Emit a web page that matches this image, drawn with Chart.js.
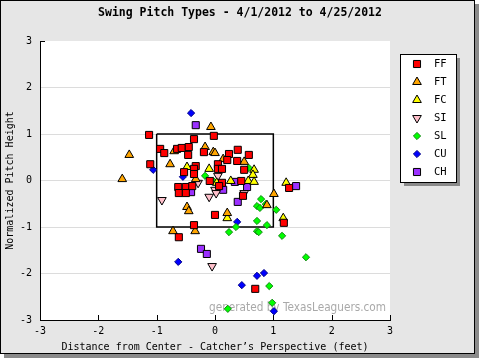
<!DOCTYPE html>
<html>
<head>
<meta charset="utf-8">
<script src="https://cdn.jsdelivr.net/npm/chart.js@4.4.0/dist/chart.umd.min.js"></script>
<style>
  html, body { margin: 0; padding: 0; background: #fff; }
  #wrap { width: 480px; height: 360px; }
</style>
</head>
<body>
<div id="wrap"><canvas id="pitchChart" width="480" height="360"></canvas></div>
<script>
// pitch locations (feet from center / normalized height)
const ffX = [-3.15, -1.13, -1.11, -0.94, -0.87, -0.65, -0.57, -0.45, -0.36, -0.02, -0.19, -0.46, -0.33, -0.36, 0.05, 0.05, 0.12, -0.36, -0.53, -0.09, 0.12, -0.63, -0.50, -0.39, 0.07, -0.62, -0.50, 0.00, -0.36, 0.24, 0.39, 0.58, 0.21, 0.38, 0.50, 0.45, 0.48, 1.27, 1.18, -0.62, 0.69];
const ffY = [1.09, 0.98, 0.35, 0.68, 0.59, 0.68, 0.70, 0.72, 0.89, 0.96, 0.61, 0.55, 0.31, 0.25, 0.35, 0.25, 0.25, 0.14, 0.18, -0.01, -0.05, -0.14, -0.14, -0.12, -0.12, -0.27, -0.27, -0.74, -0.96, 0.57, 0.66, 0.55, 0.44, 0.42, 0.23, -0.01, -0.33, -0.16, -0.91, -1.22, -2.33];

const ftX = [-1.47, -1.59, -0.07, -0.17, -0.03, 0.00, -0.70, -0.77, 0.14, 0.50, -0.33, -0.48, -0.45, 0.21, 1.01, 0.89, -0.72, -0.34];
const ftY = [0.55, 0.03, 1.15, 0.72, 0.61, 0.59, 0.63, 0.35, 0.46, 0.40, 0.03, -0.57, -0.66, -0.70, -0.29, -0.53, -1.09, -1.09];

const fcX = [-0.48, -0.10, 0.67, 0.65, 0.03, 0.27, 0.57, 0.67, 1.22, 0.21, 1.17];
const fcY = [0.29, 0.25, 0.23, 0.12, -0.05, -0.01, -0.01, -0.03, -0.05, -0.81, -0.81];

const siX = [0.05, -0.29, 0.00, 0.02, -0.10, -0.91, 0.50, -0.05];
const siY = [0.10, -0.05, -0.20, -0.27, -0.35, -0.42, -0.27, -1.84];

const slX = [-0.17, -0.03, 0.58, 0.79, 0.87, 0.72, 0.77, 1.05, 0.72, 0.89, 0.36, 0.24, 0.72, 0.75, 1.15, 1.56, 0.93, 0.98, 0.22];
const slY = [0.10, -0.01, 0.27, -0.40, -0.51, -0.55, -0.59, -0.63, -0.87, -0.96, -1.00, -1.11, -1.09, -1.11, -1.19, -1.65, -2.27, -2.63, -2.76];

const cuX = [-0.41, -1.06, -0.55, 0.38, -0.63, 0.84, 0.72, 0.46, 1.01];
const cuY = [1.45, 0.23, 0.08, -0.89, -1.75, -1.99, -2.05, -2.25, -2.81];

const chX = [-0.33, -0.41, 0.14, 0.34, 0.55, 0.39, 1.39, -0.24, -0.14];
const chY = [1.19, -0.25, -0.20, -0.03, -0.14, -0.46, -0.12, -1.47, -1.58];

// strike zone corners
const zoneX = [-1, 1, 1, -1, -1];
const zoneY = [1, 1, -1, -1, 1];

const axisTicks = [-3, -2, -1, 0, 1, 2, 3];
const pitchNames = ["FF", "FT", "FC", "SI", "SL", "CU", "CH"];

const monoFont = "'DejaVu Sans Mono', monospace";

function pts(xs, ys) {
    return xs.map((x, i) => ({ x: x, y: ys[i] }));
}

const pitchSets = [
    { label: "FF", data: pts(ffX, ffY), pointStyle: "rect", radius: 5, rotation: 0, fill: "#ff0000", edge: "#000000" },
    { label: "FT", data: pts(ftX, ftY), pointStyle: "triangle", radius: 5, rotation: 0, fill: "#ffa500", edge: "#000000" },
    { label: "FC", data: pts(fcX, fcY), pointStyle: "triangle", radius: 5, rotation: 0, fill: "#ffff00", edge: "#000000" },
    { label: "SI", data: pts(siX, siY), pointStyle: "triangle", radius: 5, rotation: 180, fill: "#ffc0cb", edge: "#000000" },
    { label: "SL", data: pts(slX, slY), pointStyle: "rectRot", radius: 3.6, rotation: 0, fill: "#00ff00", edge: "#118811" },
    { label: "CU", data: pts(cuX, cuY), pointStyle: "rectRot", radius: 3.6, rotation: 0, fill: "#0000ff", edge: "#000088" },
    { label: "CH", data: pts(chX, chY), pointStyle: "rect", radius: 5, rotation: 0, fill: "#9b30ff", edge: "#000000" }
];

const datasets = pitchSets.map(function (p) {
    return {
        type: "scatter",
        label: p.label,
        data: p.data,
        pointStyle: p.pointStyle,
        pointRadius: p.radius,
        pointRotation: p.rotation,
        pointBackgroundColor: p.fill,
        pointBorderColor: p.edge,
        pointBorderWidth: 1,
        clip: false,
        order: 1
    };
});

datasets.push({
    type: "line",
    label: "zone",
    data: pts(zoneX, zoneY),
    borderColor: "#000000",
    borderWidth: 1.5,
    pointRadius: 0,
    fill: false,
    tension: 0,
    order: 10
});

const framePlugin = {
    id: "frame",
    beforeDraw(chart) {
        const ctx = chart.ctx, a = chart.chartArea;
        ctx.save();
        ctx.fillStyle = "#ffffff";
        ctx.fillRect(0, 0, 480, 360);
        ctx.fillStyle = "#8a8a8a";
        ctx.fillRect(4, 4, 475, 354);
        ctx.fillStyle = "#e6e6e6";
        ctx.fillRect(0, 0, 475, 354);
        ctx.strokeStyle = "#000";
        ctx.lineWidth = 1;
        ctx.strokeRect(0.5, 0.5, 474, 353);
        ctx.fillStyle = "#ffffff";
        ctx.fillRect(a.left, a.top, a.right - a.left, a.bottom - a.top);
        ctx.restore();
    },
    beforeDatasetsDraw(chart) {
        const ctx = chart.ctx, a = chart.chartArea;
        const xs = chart.scales.x, ys = chart.scales.y;
        ctx.save();
        // tick marks pointing into the plot
        ctx.strokeStyle = "#000";
        ctx.lineWidth = 1;
        ctx.beginPath();
        axisTicks.forEach(function (t) {
            const px = Math.round(xs.getPixelForValue(t)) + 0.5;
            ctx.moveTo(px, a.bottom);
            ctx.lineTo(px, a.bottom - 5);
        });
        const topY = Math.round(ys.getPixelForValue(3)) + 0.5;
        ctx.moveTo(a.left, topY);
        ctx.lineTo(a.left + 5, topY);
        ctx.stroke();
        // watermark
        ctx.fillStyle = "rgba(140,140,140,0.75)";
        ctx.font = "12px 'DejaVu Sans', sans-serif";
        ctx.textBaseline = "middle";
        ctx.textAlign = "left";
        ctx.fillText("generated by TexasLeaguers.com", 209, 308, 177);
        ctx.restore();
    },
    afterDraw(chart) {
        const ctx = chart.ctx;
        ctx.save();
        // title
        ctx.fillStyle = "#000";
        ctx.font = "bold 11.5px " + monoFont;
        ctx.textAlign = "center";
        ctx.textBaseline = "middle";
        ctx.fillText("Swing Pitch Types - 4/1/2012 to 4/25/2012", 240, 13);

        // legend box
        const lx = 400, ly = 54, lw = 56, lh = 128;
        ctx.fillStyle = "#8a8a8a";
        ctx.fillRect(lx + 4, ly + 4, lw, lh);
        ctx.fillStyle = "#ffffff";
        ctx.fillRect(lx, ly, lw, lh);
        ctx.strokeStyle = "#000";
        ctx.lineWidth = 1;
        ctx.strokeRect(lx + 0.5, ly + 0.5, lw, lh);

        ctx.font = "10.5px " + monoFont;
        ctx.textAlign = "left";
        pitchSets.forEach(function (p, i) {
            const y = 64 + i * 18;
            ctx.fillStyle = p.fill;
            ctx.strokeStyle = p.edge;
            ctx.lineWidth = 1;
            Chart.helpers.drawPoint(ctx, {
                pointStyle: p.pointStyle,
                radius: p.radius,
                rotation: p.rotation,
                borderWidth: 1
            }, 417, y);
            ctx.fillStyle = "#000";
            ctx.fillText(pitchNames[i], 434, y);
        });
        ctx.restore();
    }
};

const tickFont = { family: monoFont, size: 10 };

new Chart(document.getElementById("pitchChart").getContext("2d"), {
    data: { datasets: datasets },
    options: {
        responsive: false,
        animation: false,
        layout: { padding: { left: 0, top: 41, right: 90, bottom: 0 } },
        plugins: {
            legend: { display: false },
            tooltip: { enabled: false },
            title: { display: false }
        },
        scales: {
            x: {
                type: "linear",
                min: -3,
                max: 3,
                afterBuildTicks: function (s) { s.ticks = axisTicks.map(v => ({ value: v })); },
                ticks: { padding: 5, color: "#000", font: tickFont, maxRotation: 0 },
                grid: { display: false, drawTicks: false },
                border: { display: true, color: "#000", width: 1 },
                title: {
                    display: true,
                    text: "Distance from Center - Catcher’s Perspective (feet)",
                    color: "#000",
                    font: tickFont,
                    padding: { top: 0, bottom: 7 }
                },
                afterFit: function (s) { s.height = 40; }
            },
            y: {
                type: "linear",
                min: -3,
                max: 3,
                afterBuildTicks: function (s) { s.ticks = axisTicks.map(v => ({ value: v })); },
                ticks: { padding: 8, color: "#000", font: tickFont },
                grid: {
                    drawTicks: false,
                    color: function (c) {
                        return (c.tick && (c.tick.value === 3 || c.tick.value === -3)) ? "rgba(0,0,0,0)" : "#dcdcdc";
                    }
                },
                border: { display: true, color: "#000", width: 1 },
                title: {
                    display: true,
                    text: "Normalized Pitch Height",
                    color: "#000",
                    font: tickFont,
                    padding: { top: 4, bottom: 0 }
                },
                afterFit: function (s) { s.width = 40; }
            }
        }
    },
    plugins: [framePlugin]
});
</script>
</body>
</html>
